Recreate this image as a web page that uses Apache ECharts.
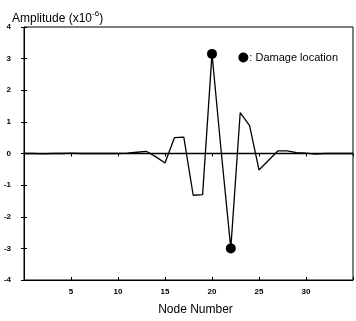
<!DOCTYPE html>
<html>
<head>
<meta charset="utf-8">
<script src="https://cdn.jsdelivr.net/npm/echarts@6/dist/echarts.min.js"></script>
<style>
  html, body { margin: 0; padding: 0; background: #fff; }
  #my_chart { width: 356px; height: 321px; }
</style>
</head>
<body>
<div id="my_chart"></div>
<script>
  // node numbers and amplitude (x10^-6)
  var nodes = [0, 1, 2, 3, 4, 5, 6, 7, 8, 9, 10, 11, 12, 13, 14, 15, 16, 17,
    18, 19, 20, 21, 22, 23, 24, 25, 26, 27, 28, 29, 30, 31, 32, 33, 34, 35];
  var amplitude = [0, 0, -0.01, 0, 0, 0.01, 0, 0, 0, 0, 0, 0.01, 0.04, 0.07, -0.1, -0.3,
    0.5, 0.52, -1.32, -1.3, 3.15, 0.0, -3.0, 1.29, 0.88, -0.52, -0.22, 0.08, 0.08,
    0.03, 0.01, -0.02, 0, 0, 0, 0];
  var damageNodes = [20, 22];
  var xTicks = [5, 10, 15, 20, 25, 30];
  var yTicks = [-4, -3, -2, -1, 0, 1, 2, 3, 4];

  var lineData = nodes.map(function (n, i) { return [n, amplitude[i]]; });
  var damageData = damageNodes.map(function (n) { return [n, amplitude[nodes.indexOf(n)]]; });

  var my_chart = echarts.init(document.getElementById('my_chart'));
  var font = 'Liberation Sans, Arial, sans-serif';

  var tickOnly = {
    show: true,
    inside: true,
    length: 3,
    lineStyle: { color: '#000', width: 1 }
  };

  my_chart.setOption({
    animation: false,
    title: {
      text: 'Amplitude (x10{sup|-6})',
      left: 7,
      top: 5,
      textStyle: {
        fontFamily: font,
        fontSize: 12,
        fontWeight: 'normal',
        color: '#000',
        rich: {
          sup: { fontFamily: font, fontSize: 8, color: '#000', padding: [0, 0, 10, 0] }
        }
      }
    },
    legend: {
      data: [{ name: 'Damage location', icon: 'circle' }],
      right: 13,
      top: 47,
      itemWidth: 10,
      itemHeight: 10,
      itemGap: 0,
      formatter: ': {name}',
      textStyle: { fontFamily: font, fontSize: 11, color: '#000', padding: [0, 0, 0, -4] }
    },
    grid: {
      left: 24,
      right: 2,
      top: 27,
      bottom: 34,
      show: true,
      borderColor: '#000',
      borderWidth: 1
    },
    xAxis: [{
      type: 'value',
      min: 0,
      max: 35,
      interval: 5,
      name: 'Node Number',
      nameLocation: 'middle',
      nameGap: 24,
      nameTextStyle: { fontFamily: font, fontSize: 12, color: '#000', padding: [0, 0, 0, 14] },
      axisLine: { onZero: false, lineStyle: { color: '#000', width: 1 } },
      axisTick: tickOnly,
      splitLine: { show: false },
      axisLabel: {
        margin: 8,
        fontFamily: font,
        fontSize: 8,
        fontWeight: 'bold',
        color: '#000',
        formatter: function (v) { return xTicks.indexOf(v) >= 0 ? v : ''; }
      }
    }, {
      type: 'value',
      position: 'top',
      min: 0,
      max: 35,
      interval: 5,
      axisLine: { show: false },
      axisTick: tickOnly,
      axisLabel: { show: false },
      splitLine: { show: false }
    }],
    yAxis: [{
      type: 'value',
      min: -4,
      max: 4,
      interval: 1,
      axisLine: { onZero: false, lineStyle: { color: '#000', width: 1 } },
      axisTick: tickOnly,
      splitLine: { show: false },
      axisLabel: {
        margin: 13,
        fontFamily: font,
        fontSize: 8,
        fontWeight: 'bold',
        color: '#000',
        padding: [0, 0, 9, 0],
        formatter: function (v) { return yTicks.indexOf(v) >= 0 ? v : ''; }
      }
    }, {
      type: 'value',
      position: 'right',
      min: -4,
      max: 4,
      interval: 1,
      axisLine: { show: false },
      axisTick: tickOnly,
      axisLabel: { show: false },
      splitLine: { show: false }
    }],
    series: [{
      name: 'Amplitude',
      type: 'line',
      data: lineData,
      showSymbol: false,
      symbol: 'none',
      lineStyle: { color: '#000', width: 1.3 },
      markLine: {
        silent: true,
        symbol: 'none',
        label: { show: false },
        lineStyle: { color: '#000', width: 1.4, type: 'solid' },
        data: [{ yAxis: 0 }]
      },
      z: 2
    }, {
      name: 'Damage location',
      type: 'scatter',
      data: damageData,
      symbol: 'circle',
      symbolSize: 10,
      itemStyle: { color: '#000', opacity: 1 },
      z: 3
    }]
  });
</script>
</body>
</html>
